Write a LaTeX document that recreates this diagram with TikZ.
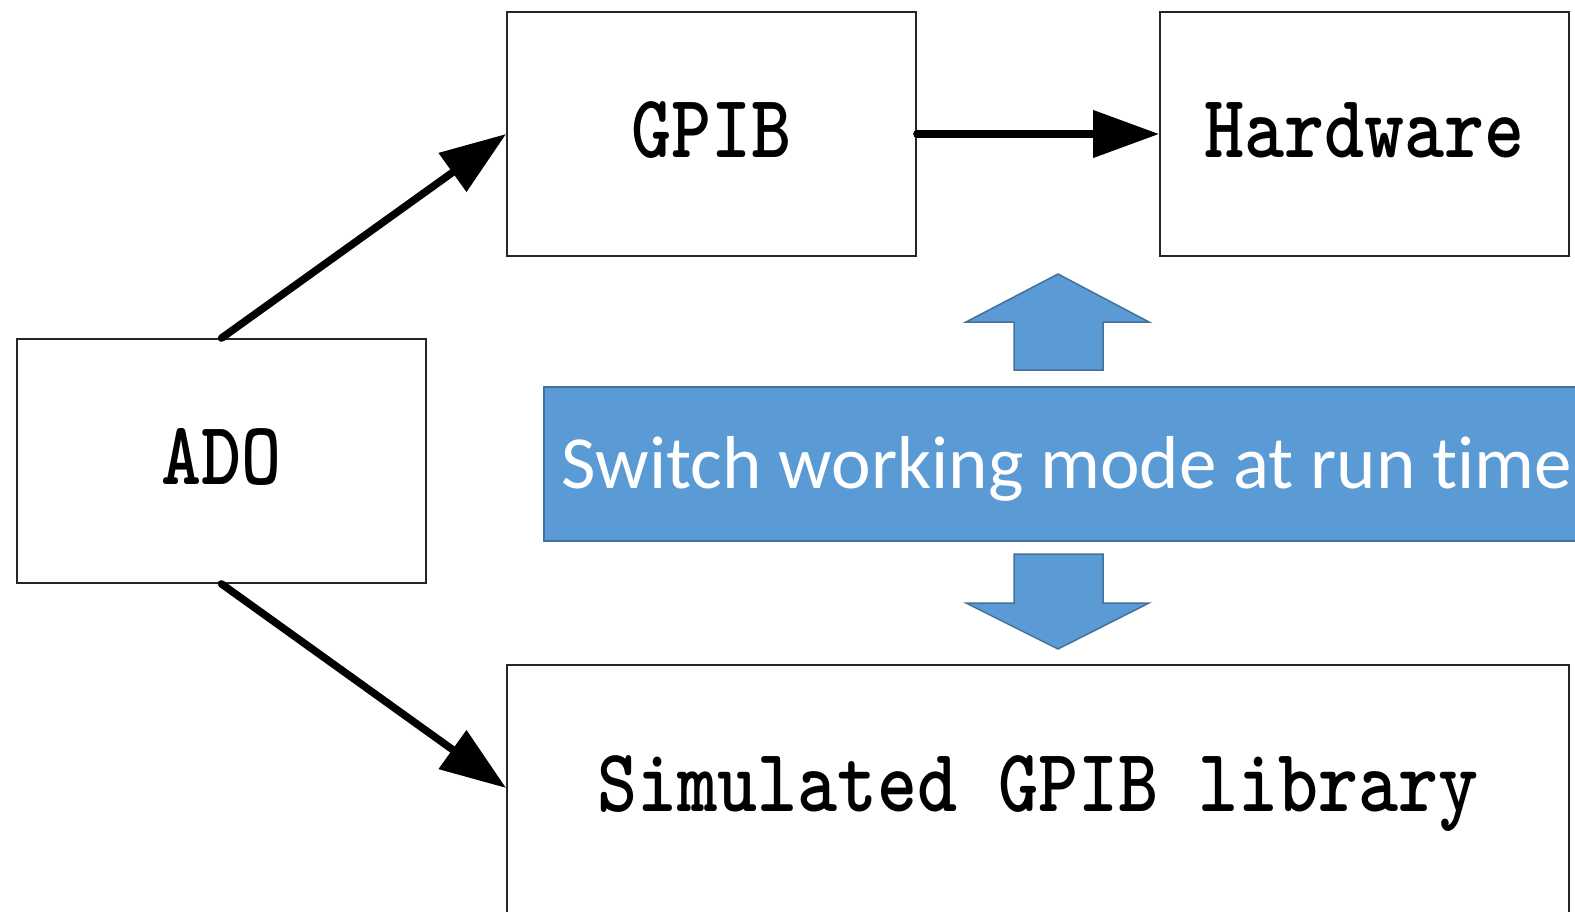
\documentclass[tikz,border=0pt]{standalone}
\usepackage{fontspec}
\usetikzlibrary{arrows.meta}
\newfontfamily\bannerfont{Carlito}[Ligatures=NoCommon]
\definecolor{bannerblue}{HTML}{5B9BD5}
\definecolor{bannerline}{HTML}{41719C}
% tall typewriter lettering for the block labels
\newcommand{\tallcaps}[1]{\scalebox{1}[1.18]{#1}}

\begin{document}
\begin{tikzpicture}[x=1pt,y=-1pt,
  box/.style={draw=black!85, line width=1.8pt, minimum width=409pt,
    minimum height=244pt, inner sep=0pt, text height=55pt, text depth=9pt,
    font=\ttfamily\bfseries\fontsize{76.2}{80}\selectfont},
  banner/.style={fill=bannerblue, draw=bannerline, line width=1.5pt,
    minimum width=1036pt, minimum height=154pt, inner sep=0pt,
    text=white, text height=48pt, text depth=0pt,
    font=\bannerfont\fontsize{75}{85}\selectfont},
  flow/.style={line width=7.5pt, line cap=round,
    -{Triangle[length=66pt,width=46pt]}},
  blockarrow/.style={fill=bannerblue, draw=bannerline, line width=1.5pt,
    line join=miter}]

\useasboundingbox (0,0) rectangle (1575,911);

% blocks
\node[box] (ado)  at (221.5,461)  {\tallcaps{ADO}};
\node[box] (gpib) at (711.5,134)  {\tallcaps{GPIB}};
\node[box] (hw)   at (1364.5,134) {\tallcaps{Hardware}};
\node[box, minimum width=1062pt, minimum height=260pt, text depth=23pt]
  (sim) at (1038,795) {\tallcaps{Simulated GPIB library}};

% mode switch banner
\node[banner] (mode) at (1062,464) {\hspace*{10pt}Switch working mode at run time};

% block arrows around the banner
\draw[blockarrow] (1058,274) -- (1149,322) -- (1103,322) -- (1103,370)
  -- (1014,370) -- (1014,322) -- (966,322) -- cycle;
\draw[blockarrow] (1014,554) -- (1103,554) -- (1103,603) -- (1149,603)
  -- (1058,649) -- (966,603) -- (1014,603) -- cycle;

% connectors
\draw[flow] (ado.north) -- (gpib.west);
\draw[flow] (ado.south) -- ([yshift=7pt]sim.west);
\draw[flow] (gpib.east) -- (hw.west);

\end{tikzpicture}
\end{document}
